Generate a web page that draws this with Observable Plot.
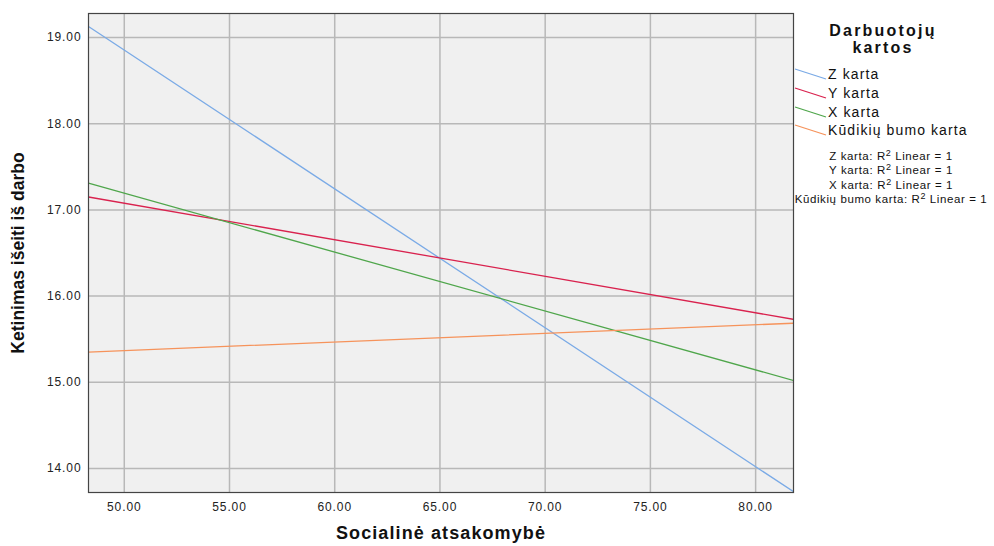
<!DOCTYPE html>
<html>
<head>
<meta charset="utf-8">
<script src="https://cdn.jsdelivr.net/npm/d3@7"></script>
<script src="https://cdn.jsdelivr.net/npm/@observablehq/plot@0.6"></script>
<style>
  html, body { margin: 0; padding: 0; background: #fff; }
  body { font-family: "Liberation Sans", Arial, sans-serif; }
  #wrap { position: relative; width: 994px; height: 546px; }
  #legend { position: absolute; left: 790px; top: 22px; width: 204px; color: #111; }
  #legend .title { text-align: center; font-weight: bold; font-size: 16px; line-height: 17px; letter-spacing: 2.2px; margin-left: -18px; }
  #legend .item { display: flex; align-items: center; height: 18.7px; font-size: 14px; letter-spacing: 1.1px; }
  #legend .item svg { width: 38px; height: 18px; flex: none; }
  #legend .r2 { text-align: center; font-size: 11.5px; line-height: 14.4px; margin-top: 9px; white-space: nowrap; margin-left: -2px; width: 206px; letter-spacing: 0.6px; }
  #legend .r2 sup { font-size: 9px; line-height: 0; vertical-align: 4px; }
</style>
</head>
<body>
<div id="wrap"></div>
<script>
const generations = ["Z karta", "Y karta", "X karta", "Kūdikių bumo karta"];
const colors = ["#7aaae6", "#d9224e", "#4fa64b", "#f6935b"];
const xEnds = [48.3, 81.8];
const zValues = [19.13, 13.73];
const yValues = [17.15, 15.73];
const xgValues = [17.31, 15.02];
const boomerValues = [15.35, 15.685];
const xTicks = [50, 55, 60, 65, 70, 75, 80];
const yTicks = [14, 15, 16, 17, 18, 19];

const seriesValues = [zValues, yValues, xgValues, boomerValues];
const rows = [];
generations.forEach((g, i) => {
  xEnds.forEach((x, j) => rows.push({gen: g, x, y: seriesValues[i][j]}));
});

const chart = Plot.plot({
  width: 994,
  height: 546,
  marginLeft: 88,
  marginTop: 13,
  marginRight: 201,
  marginBottom: 54,
  style: {fontFamily: "Liberation Sans, Arial, sans-serif", background: "transparent"},
  x: {domain: [48.3, 81.8]},
  y: {domain: [13.72, 19.28]},
  color: {domain: generations, range: colors},
  marks: [
    Plot.frame({fill: "#f0f0f0"}),
    Plot.gridX(xTicks, {stroke: "#b8b8b8", strokeOpacity: 1, strokeWidth: 1.5}),
    Plot.gridY(yTicks, {stroke: "#b8b8b8", strokeOpacity: 1, strokeWidth: 1.5}),
    Plot.line(rows, {x: "x", y: "y", z: "gen", stroke: "gen", strokeWidth: 1.3, clip: true}),
    Plot.frame({stroke: "#444", strokeWidth: 1.2}),
    Plot.axisX(xTicks, {tickFormat: d3.format(".2f"), tickSize: 0, tickPadding: 10, fontSize: 12, fill: "#222", label: null}),
    Plot.axisY(yTicks, {tickFormat: d3.format(".2f"), tickSize: 0, tickPadding: 7, fontSize: 12, fill: "#222", label: null}),
    Plot.text(["Socialinė atsakomybė"], {frameAnchor: "bottom", textAnchor: "middle", dy: 46, fontSize: 18, fontWeight: "bold", fill: "#111"}),
    Plot.text(["Ketinimas išeiti iš darbo"], {frameAnchor: "left", textAnchor: "middle", dx: -70, rotate: -90, fontSize: 17.5, fontWeight: "bold", fill: "#111"})
  ]
});
document.getElementById("wrap").appendChild(chart);

// SPSS-like wide text rendering
d3.select(chart).selectAll('g[aria-label="x-axis tick label"] text, g[aria-label="y-axis tick label"] text')
  .style("letter-spacing", "0.9px");
d3.select(chart).selectAll('g[aria-label="text"] text')
  .filter(function () { return this.textContent === "Socialinė atsakomybė"; })
  .style("letter-spacing", "1.1px");

const legend = document.createElement("div");
legend.id = "legend";
let html = '<div class="title">Darbuotojų<br>kartos</div><div style="height:9px"></div>';
generations.forEach((g, i) => {
  html += `<div class="item"><svg><line x1="5" y1="4" x2="36" y2="14" stroke="${colors[i]}" stroke-width="1.3"/></svg><span>${g}</span></div>`;
});
html += '<div class="r2">' + generations.map(g => `${g}: R<sup>2</sup> Linear = 1`).join("<br>") + '</div>';
legend.innerHTML = html;
document.getElementById("wrap").appendChild(legend);
</script>
</body>
</html>
